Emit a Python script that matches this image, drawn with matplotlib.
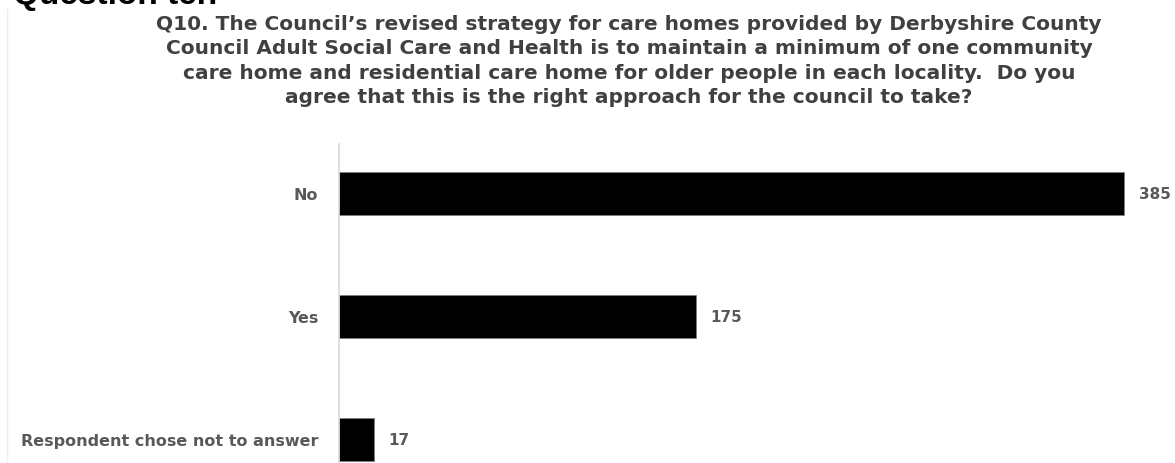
import matplotlib.pyplot as plt
from matplotlib.lines import Line2D

categories = ['No', 'Yes', 'Respondent chose not to answer']
counts = [385, 175, 17]

title = ("Q10. The Council\u2019s revised strategy for care homes provided by Derbyshire County\n"
         "Council Adult Social Care and Health is to maintain a minimum of one community\n"
         "care home and residential care home for older people in each locality.  Do you\n"
         "agree that this is the right approach for the council to take?")

plt.rcParams['font.family'] = ['DejaVu Sans']

fig = plt.figure(figsize=(11.75, 4.64), dpi=100)
ax = fig.add_axes([339/1175, 0.0, 816/1175, 319/464])

y = list(range(len(categories)))
ax.barh(y, counts, height=0.35, color='black', edgecolor='#808080', linewidth=0.6)

for yi, v in zip(y, counts):
    ax.text(v + 7, yi, str(v), va='center', ha='left', fontsize=11,
            color='#595959', fontweight='bold')

ax.set_xlim(0, 400)
ax.set_ylim(2.195, -0.4)
ax.set_yticks(y)
ax.set_yticklabels(categories, fontsize=11.5, color='#595959', fontweight='bold')
ax.tick_params(axis='y', length=0, pad=15)
ax.set_xticks([])

for s in ['top', 'right', 'bottom']:
    ax.spines[s].set_visible(False)
ax.spines['left'].set_color('#d9d9d9')
ax.spines['left'].set_linewidth(1.2)

fig.text(629/1175, 1 - 15/464, title, ha='center', va='top', fontsize=14.5,
         fontweight='bold', color='#404040', linespacing=1.36)

fig.text(13/1175, 1 - 4/464, 'Question ten', ha='left', va='baseline',
         fontsize=24, fontweight='bold', color='black', family='Liberation Sans')

fig.add_artist(Line2D([7/1175, 7/1175], [0, 1 - 10/464], color='#eeeeee', linewidth=1))

fig.savefig('out.png', dpi=100)
